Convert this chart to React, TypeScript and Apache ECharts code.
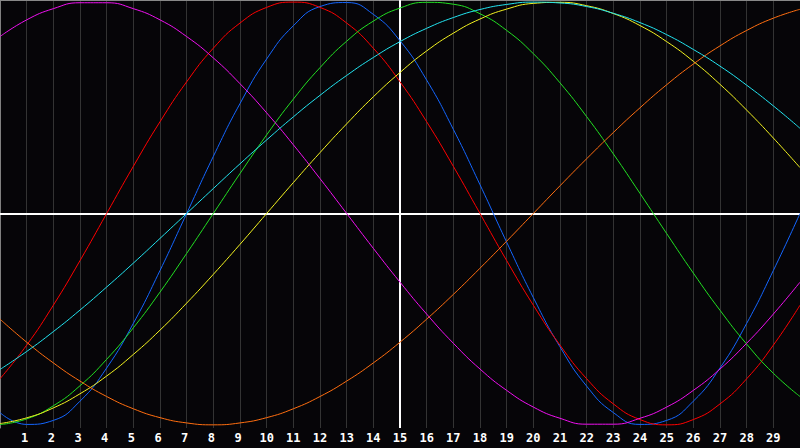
import React, { useEffect, useRef } from "react";
import * as echarts from "echarts";

const DAYS = [0, 1, 2, 3, 4, 5, 6, 7, 8, 9, 10, 11, 12, 13, 14, 15, 16, 17, 18, 19, 20, 21, 22, 23, 24, 25, 26, 27, 28, 29, 30];
const TICK_LABELS = [1, 2, 3, 4, 5, 6, 7, 8, 9, 10, 11, 12, 13, 14, 15, 16, 17, 18, 19, 20, 21, 22, 23, 24, 25, 26, 27, 28, 29];
const TODAY = 15;

const PHYSICAL = [-0.942, -0.998, -0.979, -0.888, -0.731, -0.52, -0.27, 0, 0.27, 0.52, 0.731, 0.888, 0.979, 0.998, 0.942, 0.817, 0.631, 0.398, 0.136, -0.136, -0.398, -0.631, -0.817, -0.942, -0.998, -0.979, -0.888, -0.731, -0.52, -0.27, 0];
const EMOTIONAL = [-0.782, -0.623, -0.434, -0.223, 0, 0.223, 0.434, 0.623, 0.782, 0.901, 0.975, 1, 0.975, 0.901, 0.782, 0.623, 0.434, 0.223, 0, -0.223, -0.434, -0.623, -0.782, -0.901, -0.975, -1, -0.975, -0.901, -0.782, -0.623, -0.434];
const INTELLECTUAL = [-0.999, -0.972, -0.91, -0.815, -0.69, -0.541, -0.372, -0.189, 0, 0.189, 0.372, 0.541, 0.69, 0.815, 0.91, 0.972, 0.999, 0.99, 0.945, 0.866, 0.756, 0.618, 0.458, 0.282, 0.095, -0.095, -0.282, -0.458, -0.618, -0.756, -0.866];
const INTUITIVE = [0.837, 0.916, 0.969, 0.997, 0.997, 0.969, 0.916, 0.837, 0.736, 0.614, 0.476, 0.325, 0.165, 0, -0.165, -0.325, -0.476, -0.614, -0.736, -0.837, -0.916, -0.969, -0.997, -0.997, -0.969, -0.916, -0.837, -0.736, -0.614, -0.476, -0.325];
const AESTHETIC = [-0.994, -0.967, -0.92, -0.853, -0.769, -0.667, -0.552, -0.424, -0.288, -0.146, 0, 0.146, 0.288, 0.424, 0.552, 0.667, 0.769, 0.853, 0.92, 0.967, 0.994, 0.999, 0.983, 0.946, 0.889, 0.813, 0.72, 0.611, 0.489, 0.357, 0.217];
const AWARENESS = [-0.5, -0.609, -0.707, -0.793, -0.866, -0.924, -0.966, -0.991, -1, -0.991, -0.966, -0.924, -0.866, -0.793, -0.707, -0.609, -0.5, -0.383, -0.259, -0.131, 0, 0.131, 0.259, 0.383, 0.5, 0.609, 0.707, 0.793, 0.866, 0.924, 0.966];
const SPIRITUAL = [-0.738, -0.653, -0.559, -0.457, -0.348, -0.235, -0.118, 0, 0.118, 0.235, 0.348, 0.457, 0.559, 0.653, 0.738, 0.813, 0.876, 0.927, 0.965, 0.989, 1, 0.996, 0.979, 0.947, 0.903, 0.846, 0.776, 0.697, 0.607, 0.509, 0.403];

const SERIES = [
  { name: "Physical", values: PHYSICAL, color: "#1466ff" },
  { name: "Emotional", values: EMOTIONAL, color: "#ff0000" },
  { name: "Intellectual", values: INTELLECTUAL, color: "#22e022" },
  { name: "Intuitive", values: INTUITIVE, color: "#f010f0" },
  { name: "Aesthetic", values: AESTHETIC, color: "#f4f420" },
  { name: "Awareness", values: AWARENESS, color: "#ff6e10" },
  { name: "Spiritual", values: SPIRITUAL, color: "#22e4f0" },
];

const LABEL_FONT = {
  color: "#ffffff",
  fontFamily: "DejaVu Sans Mono",
  fontWeight: "bold" as const,
  fontSize: 12,
};

export default function App() {
  const ref = useRef<HTMLDivElement>(null);
  useEffect(() => {
    if (!ref.current) return;
    const chart = echarts.init(ref.current, undefined, { renderer: "svg" });
    const labelSet = new Set(TICK_LABELS);
    const series: any[] = SERIES.map((s, i) => ({
      name: s.name,
      type: "line",
      data: DAYS.map((d, k) => [d, s.values[k]]),
      smooth: 0.5,
      showSymbol: false,
      symbol: "none",
      lineStyle: { color: s.color, width: 1 },
      z: 3,
      markLine:
        i === 0
          ? {
              silent: true,
              z: 1,
              symbol: ["none", "none"],
              label: { show: false },
              lineStyle: { color: "#ffffff", width: 2, type: "solid" },
              data: [{ yAxis: 0 }, { xAxis: TODAY }],
            }
          : undefined,
    }));
    chart.setOption({
      animation: false,
      backgroundColor: "#060508",
      grid: { left: 0, right: 0, top: 0, bottom: 20 },
      xAxis: [
        {
          type: "value",
          min: 0,
          max: 30,
          interval: 1,
          axisLine: { show: true, lineStyle: { color: "#a8a8a8", width: 1 } },
          axisTick: { show: false },
          splitLine: { show: true, lineStyle: { color: "#333333", width: 1 } },
          axisLabel: {
            ...LABEL_FONT,
            margin: 4,
            showMinLabel: false,
            showMaxLabel: false,
            formatter: (v: number) =>
              labelSet.has(v) ? (v < 10 ? `{s|${v}}` : String(v)) : "",
            rich: {
              s: { ...LABEL_FONT, padding: [0, 4, 0, 0] },
            },
          },
        },
        {
          type: "value",
          position: "top",
          min: 0,
          max: 30,
          axisLine: { show: true, lineStyle: { color: "#888888", width: 1 } },
          axisTick: { show: false },
          axisLabel: { show: false },
          splitLine: { show: false },
        },
      ],
      yAxis: {
        type: "value",
        min: -1.015,
        max: 1.01,
        axisLine: { show: true, lineStyle: { color: "#808080", width: 1 } },
        axisTick: { show: false },
        axisLabel: { show: false },
        splitLine: { show: false },
      },
      series,
    });
    return () => chart.dispose();
  }, []);
  return (
    <div
      ref={ref}
      style={{ position: "fixed", left: 0, top: 0, width: 800, height: 448 }}
    />
  );
}
